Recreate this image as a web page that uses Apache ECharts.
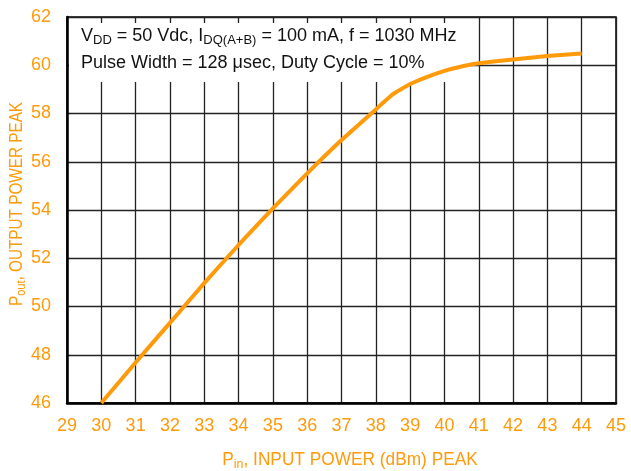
<!DOCTYPE html>
<html>
<head>
<meta charset="utf-8">
<script src="https://cdn.jsdelivr.net/npm/echarts@6/dist/echarts.min.js"></script>
<style>
html,body{margin:0;padding:0;background:#fff;}
#main{width:631px;height:471px;}
</style>
</head>
<body>
<div id="main"></div>
<script>
const pinValues = [30, 31, 32, 33, 34, 35, 36, 37, 38, 38.5, 39, 39.5, 40, 40.5, 41, 42, 43, 44];
const poutValues = [46.0, 47.68, 49.32, 50.97, 52.55, 54.07, 55.52, 56.9, 58.17, 58.8, 59.22, 59.52, 59.77, 59.95, 60.08, 60.24, 60.38, 60.49];
const xTicks = {min: 29, max: 45, step: 1};
const yTicks = {min: 46, max: 62, step: 2};
const noteLine1 = ['V', 'DD', ' = 50 Vdc, I', 'DQ(A+B)', ' = 100 mA, f = 1030 MHz'];
const noteLine2 = 'Pulse Width = 128 \u03bcsec, Duty Cycle = 10%';
const xTitle = ['P', 'in', ', INPUT POWER (dBm) PEAK'];
const yTitle = ['P', 'out', ', OUTPUT POWER PEAK'];

const ORANGE = '#FF9A0A';
const FONT = "'Liberation Sans Narrow','Arial Narrow','Liberation Sans',Arial,sans-serif";

const chart = echarts.init(document.getElementById('main'));
const data = pinValues.map((x, i) => [x, poutValues[i]]);

function subRich(color, size) {
  const ss = Math.round(size * 0.72);
  return {
    n: {fontSize: size, fontFamily: FONT, fill: color, lineHeight: size + 4},
    s: {fontSize: ss, fontFamily: FONT, fill: color, lineHeight: ss, verticalAlign: 'bottom'}
  };
}
function subText(parts) {
  return parts.map((p, i) => (i % 2 === 0 ? '{n|' : '{s|') + p + '}').join('');
}

chart.setOption({
  animation: false,
  grid: {left: 67, right: 15, top: 17, bottom: 68, show: true, borderColor: '#000', borderWidth: 1.5},
  xAxis: {
    type: 'value', min: xTicks.min, max: xTicks.max, interval: xTicks.step,
    axisLine: {show: true, lineStyle: {color: '#000', width: 2.5}},
    axisTick: {show: false},
    axisLabel: {color: ORANGE, fontSize: 18, fontFamily: FONT, margin: 14},
    splitLine: {show: true, lineStyle: {color: '#222', width: 1.3}}
  },
  yAxis: {
    type: 'value', min: yTicks.min, max: yTicks.max, interval: yTicks.step,
    axisLine: {show: true, lineStyle: {color: '#000', width: 2.5}},
    axisTick: {show: false},
    axisLabel: {color: ORANGE, fontSize: 18, fontFamily: FONT, margin: 16},
    splitLine: {show: true, lineStyle: {color: '#222', width: 1.3}}
  },
  series: [{
    type: 'line', data: data, smooth: 0.12, showSymbol: false,
    lineStyle: {color: ORANGE, width: 4}, z: 5
  }],
  graphic: [
    {type: 'rect', left: 69, top: 23, shape: {width: 393, height: 59}, style: {fill: '#fff'}, z: 1},
    {type: 'text', left: 81, top: 27, z: 11,
      style: {text: subText(noteLine1), rich: subRich('#111', 18)}},
    {type: 'text', left: 81, top: 54, z: 11,
      style: {text: noteLine2, font: '18px ' + FONT, fill: '#111'}},
    {type: 'text', x: 350, y: 460, scaleX: 0.96, z: 11,
      style: {text: subText(xTitle), rich: subRich(ORANGE, 18), align: 'center', verticalAlign: 'middle'}},
    {type: 'text', x: 17, y: 204, rotation: Math.PI / 2, scaleX: 0.85, z: 11,
      style: {text: subText(yTitle), rich: subRich(ORANGE, 18), align: 'center', verticalAlign: 'middle'}}
  ]
});
</script>
</body>
</html>
